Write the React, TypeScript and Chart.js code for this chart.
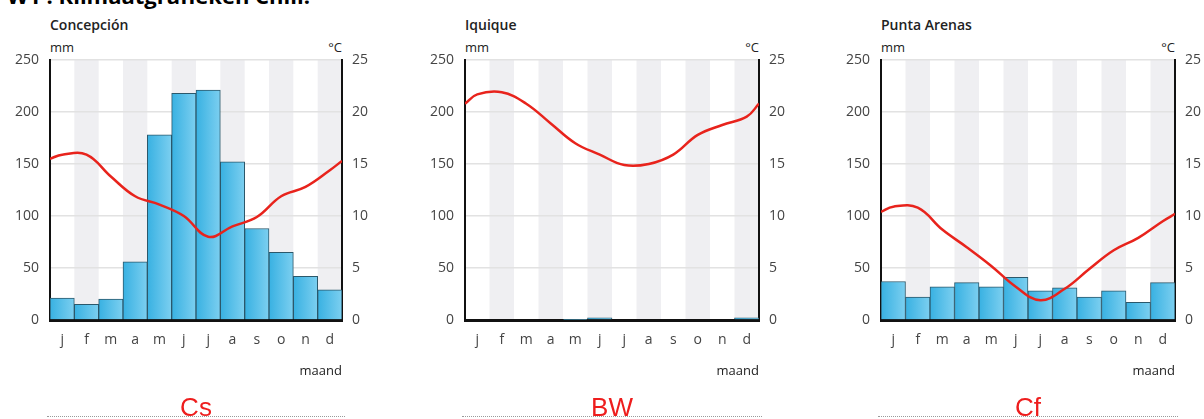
import React, { useEffect, useRef } from 'react';
import { Chart, registerables } from 'chart.js';

Chart.register(...registerables);

// ---------- data ----------
const months = ['j', 'f', 'm', 'a', 'm', 'j', 'j', 'a', 's', 'o', 'n', 'd'];
// month position (in months from the start of the year) of each temperature reading
const tempMonthPos = [0, 0.5, 1.5, 2.5, 3.5, 4.5, 5.5, 6.5, 7.5, 8.5, 9.5, 10.5, 11.5, 12];

const concepcionPrecip = [21, 15, 20, 56, 178, 218, 221, 152, 88, 65, 42, 29];
const concepcionTemp = [15.5, 15.9, 15.9, 13.8, 11.9, 11.1, 10.0, 8.0, 9.0, 9.9, 11.9, 12.8, 14.4, 15.3];

const iquiquePrecip = [0, 0, 0, 0, 0.5, 2, 0, 0, 0, 0, 0, 2];
const iquiqueTemp = [20.8, 21.7, 21.9, 20.8, 18.9, 17.0, 15.9, 14.9, 15.0, 15.9, 17.8, 18.75, 19.55, 20.8];

const puntaPrecip = [37, 22, 32, 36, 32, 41, 28, 31, 22, 28, 17, 36];
const puntaTemp = [10.4, 10.9, 10.8, 8.7, 7.0, 5.2, 3.2, 1.9, 3.0, 4.9, 6.7, 7.9, 9.5, 10.2];

const mmMax = 250;
const mmStep = 50;
const tempMax = 25;
const tempStep = 5;

const pageTitle = 'W1 : Klimaatgrafieken Chili.';

// ---------- layout ----------
const PLOT_TOP = 60;
const PLOT_BOTTOM = 320;
const CANVAS_TOP = 40;
const CANVAS_H = 345;
const SIDE = 50;

const FONT = '"Open Sans", "DejaVu Sans", sans-serif';

const bandsPlugin = {
  id: 'bands',
  beforeDraw(chart: any) {
    const { ctx, chartArea, scales } = chart;
    const x = scales.x;
    if (!x || !chartArea) return;
    const w = (chartArea.right - chartArea.left) / months.length;
    ctx.save();
    ctx.fillStyle = '#efeff2';
    for (let i = 1; i < months.length; i += 2) {
      const cx = x.getPixelForValue(i);
      ctx.fillRect(cx - w / 2, chartArea.top, w, chartArea.bottom - chartArea.top);
    }
    ctx.restore();
  },
};

type PanelProps = {
  name: string;
  precip: number[];
  temp: number[];
  plotLeft: number;
  plotRight: number;
  climate: string;
};

function Panel({ name, precip, temp, plotLeft, plotRight, climate }: PanelProps) {
  const ref = useRef<HTMLCanvasElement | null>(null);
  const canvasW = plotRight - plotLeft + SIDE * 2;

  useEffect(() => {
    if (!ref.current) return;
    const chart = new Chart(ref.current, {
      type: 'bar',
      data: {
        labels: months,
        datasets: [
          {
            type: 'line',
            data: temp.map((t, i) => ({ x: tempMonthPos[i], y: t })),
            xAxisID: 'x2',
            yAxisID: 'y2',
            borderColor: '#e8231c',
            borderWidth: 2.5,
            pointRadius: 0,
            tension: 0.4,
            fill: false,
            order: 0,
          } as any,
          {
            type: 'bar',
            data: precip,
            xAxisID: 'x',
            yAxisID: 'y',
            grouped: false,
            barPercentage: 1,
            categoryPercentage: 1,
            borderColor: '#2b586b',
            borderWidth: 1,
            borderSkipped: 'bottom',
            order: 1,
            backgroundColor: (c: any) => {
              const ch = c.chart;
              const xs = ch.scales && ch.scales.x;
              if (!xs || !ch.chartArea) return '#4bbbe8';
              const w = (ch.chartArea.right - ch.chartArea.left) / months.length;
              const cx = xs.getPixelForValue(c.dataIndex);
              const g = ch.ctx.createLinearGradient(cx - w / 2, 0, cx + w / 2, 0);
              g.addColorStop(0, '#38b1e2');
              g.addColorStop(1, '#7ccff0');
              return g;
            },
          } as any,
        ],
      },
      options: {
        responsive: false,
        animation: false,
        devicePixelRatio: 1,
        layout: { padding: { top: PLOT_TOP - CANVAS_TOP, left: 0, right: 0, bottom: 0 } },
        plugins: {
          legend: { display: false },
          tooltip: { enabled: false },
        },
        scales: {
          x: {
            type: 'category',
            offset: true,
            grid: { display: false, drawTicks: false },
            border: { display: true, color: '#111', width: 3 },
            ticks: { color: '#444', font: { family: FONT, size: 14 }, padding: 12, maxRotation: 0, autoSkip: false },
            afterFit: (s: any) => {
              s.height = CANVAS_H - (PLOT_BOTTOM - CANVAS_TOP);
            },
          },
          x2: {
            type: 'linear',
            min: 0,
            max: months.length,
            offset: false,
            grid: { offset: false },
            display: false,
          },
          y: {
            position: 'left',
            min: 0,
            max: mmMax,
            ticks: { stepSize: mmStep, color: '#444', font: { family: FONT, size: 14 }, padding: 11 },
            grid: { color: '#e2e2e2', lineWidth: 1.5, drawTicks: false },
            border: { display: true, color: '#111', width: 2 },
            afterFit: (s: any) => {
              s.width = SIDE;
            },
          },
          y2: {
            position: 'right',
            min: 0,
            max: tempMax,
            ticks: { stepSize: tempStep, color: '#444', font: { family: FONT, size: 14 }, padding: 10 },
            grid: { display: false, drawTicks: false },
            border: { display: true, color: '#111', width: 2 },
            afterFit: (s: any) => {
              s.width = SIDE;
            },
          },
        },
      } as any,
      plugins: [bandsPlugin],
    });
    return () => chart.destroy();
  }, []);

  const plotW = plotRight - plotLeft;
  const text: React.CSSProperties = { position: 'absolute', fontFamily: FONT, color: '#222', whiteSpace: 'nowrap' };

  return (
    <>
      <div style={{ ...text, left: plotLeft, top: 16, fontSize: 14, fontWeight: 600, lineHeight: '18px' }}>{name}</div>
      <div style={{ ...text, left: plotLeft, top: 38, fontSize: 13, lineHeight: '18px' }}>mm</div>
      <div style={{ ...text, left: plotRight - 40, width: 40, textAlign: 'right', top: 38, fontSize: 13, lineHeight: '18px' }}>°C</div>
      <canvas
        ref={ref}
        width={canvasW}
        height={CANVAS_H}
        style={{ position: 'absolute', left: plotLeft - SIDE, top: CANVAS_TOP, width: canvasW, height: CANVAS_H }}
      />
      <div style={{ ...text, left: plotRight - 80, width: 80, textAlign: 'right', top: 361, fontSize: 13, lineHeight: '18px' }}>maand</div>
      <div
        style={{
          ...text,
          left: plotLeft,
          width: plotW,
          textAlign: 'center',
          top: 392,
          fontSize: 26,
          lineHeight: '30px',
          color: '#ee1d1d',
          fontFamily: '"Liberation Sans", Arial, sans-serif',
        }}
      >
        {climate}
      </div>
      <div style={{ position: 'absolute', left: plotLeft - 3, width: plotW + 6, top: 416, borderTop: '1px dotted #9a9a9a' }} />
    </>
  );
}

export default function App() {
  return (
    <div style={{ position: 'absolute', left: 0, top: 0, width: 1204, height: 419, overflow: 'hidden', background: '#fff' }}>
      <div
        style={{
          position: 'absolute',
          left: 7,
          top: -16,
          fontFamily: FONT,
          fontWeight: 700,
          fontSize: 22,
          lineHeight: '22px',
          color: '#000',
          whiteSpace: 'nowrap',
        }}
      >
        {pageTitle}
      </div>
      <Panel name="Concepción" precip={concepcionPrecip} temp={concepcionTemp} plotLeft={50} plotRight={342} climate="Cs" />
      <Panel name="Iquique" precip={iquiquePrecip} temp={iquiqueTemp} plotLeft={465} plotRight={759} climate="BW" />
      <Panel name="Punta Arenas" precip={puntaPrecip} temp={puntaTemp} plotLeft={881} plotRight={1175} climate="Cf" />
    </div>
  );
}
